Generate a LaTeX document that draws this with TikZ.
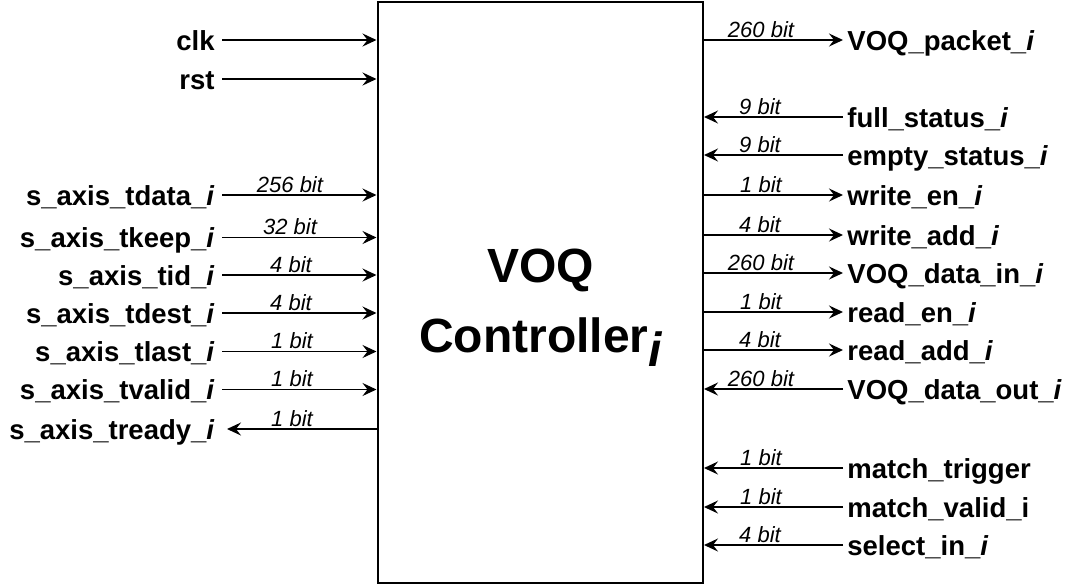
\documentclass[tikz,border=0pt]{standalone}
\usepackage{fontspec}
\setmainfont{Liberation Sans}
\usepackage{tikz}
\usetikzlibrary{arrows.meta}
\usetikzlibrary{positioning}

\begin{document}
\begin{tikzpicture}[x=.5pt, y=-.5pt,
  sig/.style={line width=.7pt, -{Stealth[length=7pt,width=6.5pt,inset=2.5pt]}},
  pin/.style={font=\fontsize{13.75}{16}\selectfont\bfseries, inner xsep=3.5pt, inner ysep=0pt, text height=10pt, text depth=0pt},
  inpin/.style={pin, anchor=east},
  outpin/.style={pin, anchor=west, inner xsep=2pt},
  bits/.style={font=\fontsize{11}{13}\selectfont\itshape, anchor=base, inner sep=0pt},
  ctrlbox/.style={draw, line width=1pt, minimum width=162.75pt, minimum height=290.5pt, inner sep=0pt}]
  \useasboundingbox (0,0) rectangle (1075,585);

  \node[ctrlbox] (ctrl) at (540.25,292.5) {};
  \node[align=center, font=\fontsize{24}{35}\selectfont\bfseries, inner sep=0pt] (ttl) at (540.5,308)
     {VOQ\\Controller\raisebox{-.3em}{\itshape i}};

  % left side
  \node[inpin] (clk) at (222,40) {clk};
  \node[inpin] (rst) at (222,79) {rst};
  \node[inpin] (tdata) at (222,195) {s\_axis\_tdata\_\textit{i}};
  \node[inpin] (tkeep) at (222,237.5) {s\_axis\_tkeep\_\textit{i}};
  \node[inpin] (tid) at (222,275) {s\_axis\_tid\_\textit{i}};
  \node[inpin] (tdest) at (222,313) {s\_axis\_tdest\_\textit{i}};
  \node[inpin] (tlast) at (222,351.5) {s\_axis\_tlast\_\textit{i}};
  \node[inpin] (tvalid) at (222,389.5) {s\_axis\_tvalid\_\textit{i}};
  \node[inpin] (tready) at (222,429) {s\_axis\_tready\_\textit{i}};

  \draw[sig] (clk.east) -- (clk.east -| ctrl.west);
  \draw[sig] (rst.east) -- (rst.east -| ctrl.west);
  \draw[sig] (tdata.east) -- (tdata.east -| ctrl.west);
  \draw[sig] (tkeep.east) -- (tkeep.east -| ctrl.west);
  \draw[sig] (tid.east) -- (tid.east -| ctrl.west);
  \draw[sig] (tdest.east) -- (tdest.east -| ctrl.west);
  \draw[sig] (tlast.east) -- (tlast.east -| ctrl.west);
  \draw[sig] (tvalid.east) -- (tvalid.east -| ctrl.west);
  \draw[sig] (tready.east -| ctrl.west) -- ([xshift=2.5pt]tready.east);

  \node[bits] (tdata-w) at (290,192) {256 bit};
  \node[bits] (tkeep-w) at (290,234.5) {32 bit};
  \node[bits] (tid-w) at (291,272) {4 bit};
  \node[bits] (tdest-w) at (291,310) {4 bit};
  \node[bits] (tlast-w) at (292,348.5) {1 bit};
  \node[bits] (tvalid-w) at (292,386.5) {1 bit};
  \node[bits] (tready-w) at (292,426) {1 bit};

  % right side
  \node[outpin] (pkt) at (843,40) {VOQ\_packet\_\textit{i}};
  \node[outpin] (full) at (843,117) {full\_status\_\textit{i}};
  \node[outpin] (empty) at (843,155) {empty\_status\_\textit{i}};
  \node[outpin] (wen) at (843,195) {write\_en\_\textit{i}};
  \node[outpin] (wadd) at (843,235) {write\_add\_\textit{i}};
  \node[outpin] (din) at (843,273) {VOQ\_data\_in\_\textit{i}};
  \node[outpin] (ren) at (843,312) {read\_en\_\textit{i}};
  \node[outpin] (radd) at (843,350) {read\_add\_\textit{i}};
  \node[outpin] (dout) at (843,389) {VOQ\_data\_out\_\textit{i}};
  \node[outpin] (mtrig) at (843,468) {match\_trigger};
  \node[outpin] (mvalid) at (843,507) {match\_valid\_i};
  \node[outpin] (sel) at (843,545) {select\_in\_\textit{i}};

  \draw[sig] (pkt.west -| ctrl.east) -- (pkt.west);
  \draw[sig] (full.west) -- (full.west -| ctrl.east);
  \draw[sig] (empty.west) -- (empty.west -| ctrl.east);
  \draw[sig] (wen.west -| ctrl.east) -- (wen.west);
  \draw[sig] (wadd.west -| ctrl.east) -- (wadd.west);
  \draw[sig] (din.west -| ctrl.east) -- (din.west);
  \draw[sig] (ren.west -| ctrl.east) -- (ren.west);
  \draw[sig] (radd.west -| ctrl.east) -- (radd.west);
  \draw[sig] (dout.west) -- (dout.west -| ctrl.east);
  \draw[sig] (mtrig.west) -- (mtrig.west -| ctrl.east);
  \draw[sig] (mvalid.west) -- (mvalid.west -| ctrl.east);
  \draw[sig] (sel.west) -- (sel.west -| ctrl.east);

  \node[bits] (pkt-w) at (761,37) {260 bit};
  \node[bits] (full-w) at (760,114) {9 bit};
  \node[bits] (empty-w) at (760,152) {9 bit};
  \node[bits] (wen-w) at (761,192) {1 bit};
  \node[bits] (wadd-w) at (760,232) {4 bit};
  \node[bits] (din-w) at (761,270) {260 bit};
  \node[bits] (ren-w) at (761,309) {1 bit};
  \node[bits] (radd-w) at (760,347) {4 bit};
  \node[bits] (dout-w) at (761,386) {260 bit};
  \node[bits] (mtrig-w) at (761,465) {1 bit};
  \node[bits] (mvalid-w) at (761,504) {1 bit};
  \node[bits] (sel-w) at (760,542) {4 bit};
\end{tikzpicture}
\end{document}
